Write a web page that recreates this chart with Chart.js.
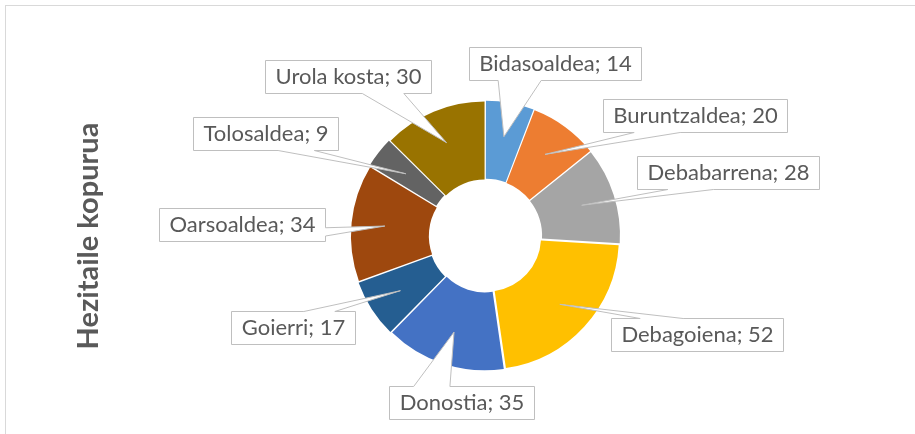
<!DOCTYPE html>
<html>
<head>
<meta charset="utf-8">
<script src="https://cdn.jsdelivr.net/npm/chart.js@4/dist/chart.umd.min.js"></script>
<style>
  html, body { margin: 0; padding: 0; background: #fff; overflow: hidden; }
  #frame { position: absolute; left: 5px; top: 5px; width: 1200px; height: 800px; border: 1px solid #d9d9d9; }
  #wrap { position: absolute; left: 0; top: 0; width: 915px; height: 434px; }
</style>
</head>
<body>
<div id="frame"></div>
<div id="wrap"><canvas id="chart"></canvas></div>
<script>
const categories = ["Bidasoaldea", "Buruntzaldea", "Debabarrena", "Debagoiena", "Donostia", "Goierri", "Oarsoaldea", "Tolosaldea", "Urola kosta"];
const values = [14, 20, 28, 52, 35, 17, 34, 9, 30];
const colors = ["#5b9bd5", "#ed7d31", "#a5a5a5", "#ffc000", "#4472c4", "#255e91", "#9e480e", "#636363", "#997300"];
const axisTitle = "Hezitaile kopurua";

// callout box centres, relative to the doughnut centre (px)
const labelOffsets = [[70, -173], [210, -121], [243, -64], [212, 98], [-24, 166], [-192, 91], [-243, -12], [-220, -103], [-137, -160]];
const labelFont = "22px Lato";
const padX = 10;
const boxHeight = 33;

const calloutPlugin = {
  id: "callouts",
  afterDatasetsDraw(chart) {
    const ctx = chart.ctx;
    const meta = chart.getDatasetMeta(0);
    ctx.save();
    ctx.font = labelFont;
    meta.data.forEach((arc, i) => {
      const p = arc.getProps(["x", "y", "startAngle", "endAngle", "innerRadius", "outerRadius"]);
      const mid = (p.startAngle + p.endAngle) / 2;
      const r = (p.innerRadius + p.outerRadius) / 2 + arc.options.offset;
      const tx = p.x + Math.cos(mid) * r;
      const ty = p.y + Math.sin(mid) * r;

      const text = categories[i] + "; " + values[i];
      const w = Math.round(ctx.measureText(text).width + 2 * padX);
      const h = boxHeight;
      const cx = p.x + labelOffsets[i][0];
      const cy = p.y + labelOffsets[i][1];
      const l = Math.round(cx - w / 2) + 0.5, t = Math.round(cy - h / 2) + 0.5;
      const rr = l + w, b = t + h;
      const dx = tx - cx, dy = ty - cy;
      const vertical = Math.abs(dy) * w > Math.abs(dx) * h;

      // rectangle callout with a wedge tail pointing into the slice
      ctx.beginPath();
      ctx.moveTo(l, t);
      if (vertical && dy < 0) {
        const a = dx > 0 ? 7 : 2;
        ctx.lineTo(l + w * a / 12, t); ctx.lineTo(tx, ty); ctx.lineTo(l + w * (a + 3) / 12, t);
      }
      ctx.lineTo(rr, t);
      if (!vertical && dx > 0) {
        const a = dy > 0 ? 7 : 2;
        ctx.lineTo(rr, t + h * a / 12); ctx.lineTo(tx, ty); ctx.lineTo(rr, t + h * (a + 3) / 12);
      }
      ctx.lineTo(rr, b);
      if (vertical && dy > 0) {
        const a = dx > 0 ? 7 : 2;
        ctx.lineTo(l + w * (a + 3) / 12, b); ctx.lineTo(tx, ty); ctx.lineTo(l + w * a / 12, b);
      }
      ctx.lineTo(l, b);
      if (!vertical && dx < 0) {
        const a = dy > 0 ? 7 : 2;
        ctx.lineTo(l, t + h * (a + 3) / 12); ctx.lineTo(tx, ty); ctx.lineTo(l, t + h * a / 12);
      }
      ctx.closePath();
      ctx.fillStyle = "#ffffff";
      ctx.fill();
      ctx.strokeStyle = "#bfbfbf";
      ctx.lineWidth = 1;
      ctx.stroke();

      ctx.fillStyle = "#595959";
      ctx.textAlign = "center";
      ctx.textBaseline = "middle";
      ctx.fillText(text, (l + rr) / 2, cy + 1);
    });
    ctx.restore();
  }
};

const ctx = document.getElementById("chart").getContext("2d");
const chart = new Chart(ctx, {
  type: "doughnut",
  data: {
    labels: categories,
    datasets: [
      {
        data: values,
        backgroundColor: colors,
        borderWidth: 0,
        offset: 8,
      },
    ],
  },
  options: {
    responsive: true,
    maintainAspectRatio: false,
    animation: false,
    events: [],
    radius: 132,
    cutout: "41%",
    layout: {
      padding: { left: 63, right: 58, top: 40, bottom: 2 },
    },
    plugins: {
      legend: { display: false },
      tooltip: { enabled: false },
      title: {
        display: true,
        text: axisTitle,
        position: "left",
        color: "#595959",
        padding: 8,
        font: { family: "Lato", size: 29, weight: "bold" },
      },
    },
  },
  plugins: [calloutPlugin],
});
</script>
</body>
</html>
